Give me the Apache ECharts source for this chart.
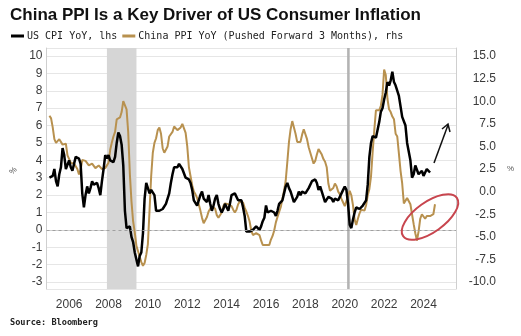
<!DOCTYPE html>
<html>
<head>
<meta charset="utf-8">
<script src="https://cdn.jsdelivr.net/npm/echarts@6/dist/echarts.min.js"></script>
<style>html,body{margin:0;padding:0;background:#fff}#c{width:521px;height:336px}</style>
</head>
<body>
<div id="c"></div>
<script>
// ---- data ----
const titleText = 'China PPI Is a Key Driver of US Consumer Inflation';
const seriesNames = ['US CPI YoY, lhs', 'China PPI YoY (Pushed Forward 3 Months), rhs'];
const sourceText = 'Source: Bloomberg';

// US CPI YoY (%), monthly, first value = Jan 2005
const cpiStartYear = 2005;
const usCpiYoY = [
  3.0, 3.0, 3.1, 3.5, 2.8, 2.5, 3.2, 3.6, 4.7, 4.3, 3.5, 3.4,
  4.0, 3.6, 3.4, 3.5, 4.2, 4.3, 4.1, 3.8, 2.1, 1.3, 2.0, 2.5,
  2.1, 2.4, 2.8, 2.6, 2.7, 2.7, 2.4, 2.0, 2.8, 3.5, 4.3, 4.1,
  4.3, 4.0, 4.0, 3.9, 4.2, 5.0, 5.6, 5.4, 4.9, 3.7, 1.1, 0.1,
  0.0, 0.2, -0.4, -0.7, -1.3, -1.4, -2.1, -1.5, -1.3, -0.2, 1.8, 2.7,
  2.6, 2.1, 2.3, 2.2, 2.0, 1.1, 1.2, 1.1, 1.1, 1.2, 1.1, 1.5,
  1.6, 2.1, 2.7, 3.2, 3.6, 3.6, 3.6, 3.8, 3.9, 3.5, 3.4, 3.0,
  2.9, 2.9, 2.7, 2.3, 1.7, 1.7, 1.4, 1.7, 2.0, 2.2, 1.8, 1.7,
  1.6, 2.0, 1.5, 1.1, 1.4, 1.8, 2.0, 1.5, 1.2, 1.0, 1.2, 1.5,
  1.6, 1.1, 1.5, 2.0, 2.1, 2.1, 2.0, 1.7, 1.7, 1.7, 1.3, 0.8,
  -0.1, 0.0, -0.1, -0.2, 0.0, 0.1, 0.2, 0.2, 0.0, 0.2, 0.5, 0.7,
  1.4, 1.0, 0.9, 1.1, 1.0, 1.0, 0.8, 1.1, 1.5, 1.6, 1.7, 2.1,
  2.5, 2.7, 2.4, 2.2, 1.9, 1.6, 1.7, 1.9, 2.2, 2.0, 2.2, 2.1,
  2.1, 2.2, 2.4, 2.5, 2.8, 2.9, 2.9, 2.7, 2.3, 2.5, 2.2, 1.9,
  1.6, 1.5, 1.9, 2.0, 1.8, 1.6, 1.8, 1.7, 1.7, 1.8, 2.1, 2.3,
  2.5, 2.3, 1.5, 0.3, 0.1, 0.6, 1.0, 1.3, 1.4, 1.2, 1.2, 1.4,
  1.4, 1.7, 2.6, 4.2, 5.0, 5.4, 5.4, 5.3, 5.4, 6.2, 6.8, 7.0,
  7.5, 7.9, 8.5, 8.3, 8.6, 9.1, 8.5, 8.3, 8.2, 7.7, 7.1, 6.5,
  6.4, 6.0, 5.0, 4.9, 4.0, 3.0, 3.2, 3.7, 3.7, 3.2, 3.1, 3.4,
  3.1, 3.2, 3.5, 3.4, 3.3
];

// China PPI YoY (%), monthly, plotted 3 months forward; first plotted month = Jan 2005
const ppiPlotStartYear = 2005;
const chinaPpiYoY = [
  8.4, 8.1, 7.1,
  5.8, 5.4, 5.6, 5.8, 5.9, 5.2, 5.2, 5.3, 4.0, 4.0, 3.2, 3.2,
  3.1, 3.0, 2.5, 1.9, 2.4, 3.5, 3.6, 3.4, 3.5, 2.9, 2.8, 3.1,
  3.3, 2.6, 2.7, 2.9, 2.8, 2.5, 2.4, 2.6, 2.7, 3.2, 4.6, 5.4,
  6.1, 6.6, 8.0, 8.1, 8.2, 8.8, 10.0, 10.1, 9.1, 6.6, 2.0, -1.1,
  -3.3, -4.5, -6.0, -6.6, -7.2, -7.8, -8.2, -7.9, -7.0, -5.8, -2.1, 1.7,
  4.3, 5.4, 5.9, 6.8, 7.1, 6.4, 4.8, 4.3, 4.3, 5.0, 6.1, 5.9,
  6.6, 7.2, 7.3, 6.8, 6.8, 7.1, 7.5, 7.3, 6.5, 5.0, 2.7, 1.7,
  0.7, 0.0, -0.3, -0.7, -1.4, -2.1, -2.9, -3.5, -3.6, -2.8, -2.2, -1.9,
  -1.6, -1.6, -1.9, -2.6, -2.9, -2.7, -2.3, -1.6, -1.3, -1.5, -1.4, -1.4,
  -1.6, -2.0, -2.3, -2.0, -1.4, -1.1, -0.9, -1.2, -1.8, -2.2, -2.7, -3.3,
  -4.3, -4.8, -4.6, -4.6, -4.6, -4.8, -5.4, -5.9, -5.9, -5.9, -5.9, -5.9,
  -5.3, -4.9, -4.3, -3.4, -2.8, -2.6, -1.7, -0.8, 0.1, 1.2, 3.3, 5.5,
  6.9, 7.8, 7.6, 6.4, 5.5, 5.5, 5.5, 6.3, 6.9, 6.9, 5.8, 4.9,
  4.3, 3.7, 3.1, 3.4, 4.1, 4.7, 4.6, 4.1, 3.6, 3.3, 2.7, 0.9,
  0.1, 0.1, 0.4, 0.9, 0.6, 0.0, -0.3, -0.8, -1.2, -1.6, -1.4, -0.5,
  0.1, -0.4, -1.5, -3.1, -3.7, -3.0, -2.4, -2.0, -2.1, -2.1, -1.5, -0.4,
  0.3, 1.7, 4.4, 6.8, 9.0, 8.8, 9.0, 9.5, 10.7, 13.5, 12.9, 10.3,
  9.1, 8.8, 8.3, 8.0, 6.4, 6.1, 4.2, 2.3, 0.9, -1.3, -1.3, -0.7,
  -0.8, -1.4, -2.5, -3.6, -4.6, -5.4, -4.4, -3.0, -2.5, -2.6, -3.0, -2.7,
  -2.5, -2.7, -2.8, -2.5, -1.4
];

// Recession periods (decimal years)
const recessions = [[2007.92, 2009.42], [2020.12, 2020.25]];

// ---- chart ----
const toPairs = (start, vals) => vals.map((v, i) => [start + i / 12, v]);
const chart = echarts.init(document.getElementById('c'), null, {renderer: 'canvas'});
const axisGrey = '#cfcfcf';
const labelCol = '#3a3a3a';
const labelFont = 'Liberation Sans';

chart.setOption({
  animation: false,
  backgroundColor: '#fff',
  title: {
    text: titleText, left: 5, top: 2,
    textStyle: {fontFamily: 'Liberation Sans', fontWeight: 'bold', fontSize: 17, color: '#111'}
  },
  legend: {
    left: 6, top: 26, icon: 'rect', itemWidth: 13, itemHeight: 3, itemGap: 5,
    data: seriesNames,
    textStyle: {fontFamily: 'DejaVu Sans Mono', fontSize: 10, color: '#222', padding: [0, 0, 0, -2]}
  },
  grid: {left: 41, right: 65, top: 48, bottom: 47},
  xAxis: {
    type: 'value', min: 2004.85, max: 2025.65, minInterval: 2, maxInterval: 2, splitNumber: 10,
    axisLine: {lineStyle: {color: axisGrey}}, axisTick: {show: false}, splitLine: {show: false},
    axisLabel: {formatter: v => String(Math.round(v)), showMinLabel: false, showMaxLabel: false,
      color: labelCol, fontFamily: labelFont, fontSize: 12, margin: 10}
  },
  yAxis: [{
    type: 'value', min: -3.40, max: 10.46, minInterval: 1, maxInterval: 1, splitNumber: 14,
    name: '%', nameLocation: 'middle', nameGap: 27, nameRotate: 45,
    nameTextStyle: {fontSize: 8, color: '#555'},
    axisLine: {show: true, lineStyle: {color: axisGrey}}, axisTick: {show: false},
    splitLine: {lineStyle: {color: '#e6e6e6'}},
    axisLabel: {showMinLabel: false, showMaxLabel: false, color: labelCol, fontFamily: labelFont, fontSize: 12, margin: 4}
  }, {
    type: 'value', min: -10.77, max: 15.885, minInterval: 2.5, maxInterval: 2.5, splitNumber: 11,
    name: '%', nameLocation: 'middle', nameGap: 51, nameRotate: 0,
    nameTextStyle: {fontSize: 8, color: '#555'},
    axisLine: {show: true, lineStyle: {color: axisGrey}}, axisTick: {show: false},
    splitLine: {show: false},
    axisLabel: {showMinLabel: false, showMaxLabel: false, formatter: v => v.toFixed(1), align: 'right',
      color: labelCol, fontFamily: labelFont, fontSize: 12, margin: 40}
  }],
  series: [{
    type: 'line', name: '_shade', data: [], z: 1, silent: true,
    markArea: {silent: true, data: [
      [{xAxis: recessions[0][0], itemStyle: {color: '#d6d6d6'}}, {xAxis: recessions[0][1]}],
      [{xAxis: recessions[1][0], itemStyle: {color: '#b3b3b3'}}, {xAxis: recessions[1][1]}]
    ]},
    markLine: {silent: true, symbol: 'none', label: {show: false},
      lineStyle: {color: '#a0a0a0', type: [3, 3], width: 1}, data: [{yAxis: 0}]}
  }, {
    type: 'line', name: seriesNames[1], yAxisIndex: 1, z: 3,
    data: toPairs(ppiPlotStartYear, chinaPpiYoY), showSymbol: false,
    lineStyle: {color: '#b8914f', width: 2}, itemStyle: {color: '#b8914f'}
  }, {
    type: 'line', name: seriesNames[0], yAxisIndex: 0, z: 4,
    data: toPairs(cpiStartYear, usCpiYoY), showSymbol: false,
    lineStyle: {color: '#000', width: 2.5}, itemStyle: {color: '#000'}
  }],
  graphic: [
    {type: 'text', left: 10, top: 318, style: {text: sourceText, font: 'bold 8.6px "DejaVu Sans Mono"', fill: '#222'}},
    {type: 'ellipse', shape: {cx: 0, cy: 0, rx: 33, ry: 15}, x: 430, y: 217, rotation: 0.62, z: 10,
      style: {fill: 'none', stroke: '#c8454e', lineWidth: 2}},
    {type: 'line', shape: {x1: 434, y1: 163, x2: 448, y2: 125}, z: 10, style: {stroke: '#111', lineWidth: 1.5}},
    {type: 'polyline', shape: {points: [[442, 129], [448, 124], [450, 132]]}, z: 10, style: {stroke: '#111', lineWidth: 1.5, fill: 'none'}}
  ]
});
</script>
</body>
</html>
